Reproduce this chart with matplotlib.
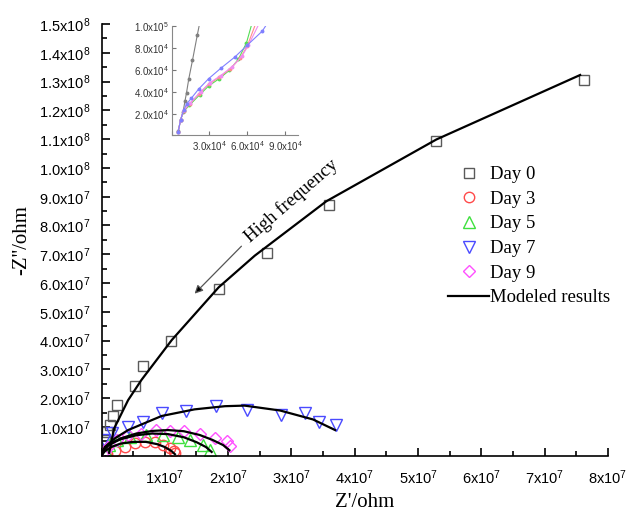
import numpy as np
import matplotlib
matplotlib.use('Agg')
import matplotlib.pyplot as plt
from matplotlib.ticker import MultipleLocator, FuncFormatter

plt.rcParams['mathtext.default'] = 'regular'

# measured data (units of 1e7 ohm)
day0_x = [0.05, 0.09, 0.13, 0.18, 0.25, 0.53, 0.66, 1.09, 1.85, 2.62, 3.59, 5.29, 7.62]
day0_y = [0.55, 0.83, 1.06, 1.38, 1.76, 2.42, 3.12, 4.00, 5.79, 7.03, 8.70, 10.93, 13.06]
day3_x = [0.08, 0.21, 0.37, 0.53, 0.68, 0.84, 0.97, 1.08, 1.14, 1.16]
day3_y = [0.05, 0.15, 0.31, 0.43, 0.48, 0.47, 0.38, 0.28, 0.18, 0.08]
day5_x = [0.05, 0.12, 0.25, 0.45, 0.70, 0.97, 1.21, 1.39, 1.60, 1.72]
day5_y = [0.20, 0.38, 0.55, 0.66, 0.72, 0.72, 0.64, 0.54, 0.38, 0.20]
day7_x = [0.04, 0.16, 0.42, 0.66, 0.96, 1.33, 1.81, 2.30, 2.84, 3.21, 3.44, 3.70]
day7_y = [0.56, 0.79, 0.99, 1.18, 1.47, 1.55, 1.71, 1.60, 1.41, 1.47, 1.18, 1.06]
day9_x = [0.05, 0.10, 0.24, 0.42, 0.63, 0.86, 1.08, 1.30, 1.56, 1.80, 1.98, 2.03]
day9_y = [0.15, 0.31, 0.54, 0.71, 0.77, 0.89, 0.85, 0.85, 0.75, 0.62, 0.50, 0.33]

# modeled results
fit0_x = [0.12, 0.20, 0.42, 0.63, 1.11, 1.85, 2.42, 3.55, 5.29, 7.56]
fit0_y = [0.10, 0.95, 1.93, 2.63, 4.02, 5.85, 6.95, 8.84, 10.99, 13.23]
fit3_x = [0.0, 0.05, 0.15, 0.30, 0.50, 0.70, 0.88, 1.00, 1.10, 1.16]
fit3_y = [0.0, 0.15, 0.30, 0.42, 0.48, 0.48, 0.40, 0.30, 0.17, 0.05]
fit5_x = [0.0, 0.03, 0.12, 0.30, 0.55, 0.80, 1.05, 1.30, 1.50, 1.65, 1.74]
fit5_y = [0.0, 0.18, 0.38, 0.57, 0.71, 0.77, 0.75, 0.64, 0.47, 0.30, 0.13]
fit7_x = [0.0, 0.05, 0.21, 0.42, 0.95, 1.47, 1.95, 2.26, 2.82, 3.34, 3.69]
fit7_y = [0.0, 0.30, 0.60, 0.89, 1.38, 1.61, 1.72, 1.74, 1.57, 1.26, 0.89]
fit9_x = [0.0, 0.03, 0.12, 0.30, 0.55, 0.80, 1.05, 1.30, 1.55, 1.75, 1.92, 2.02]
fit9_y = [0.0, 0.20, 0.40, 0.60, 0.77, 0.86, 0.89, 0.85, 0.72, 0.55, 0.37, 0.19]

# inset data (units of 1e4 ohm)
in0_x = [0.53, 0.72, 0.92, 1.06, 1.19, 1.37, 1.66, 2.05, 2.35]
in0_y = [0.44, 1.43, 2.19, 3.12, 3.94, 5.21, 6.89, 9.26, 11.0]
in3_x = [0.53, 0.72, 0.95, 1.45, 2.20, 2.95, 3.80, 4.65, 5.45, 6.00, 6.75]
in3_y = [0.35, 1.43, 2.25, 2.90, 3.85, 4.70, 5.35, 6.10, 7.10, 8.20, 10.5]
in5_x = [0.53, 0.72, 0.95, 1.40, 2.23, 2.96, 3.74, 4.58, 5.30, 5.94, 6.50]
in5_y = [0.35, 1.43, 2.20, 2.75, 3.73, 4.56, 5.18, 5.97, 7.00, 8.50, 10.8]
in7_x = [0.53, 0.72, 0.95, 1.20, 1.58, 2.15, 2.94, 3.93, 5.02, 6.00, 7.19, 7.60]
in7_y = [0.35, 1.43, 2.30, 2.90, 3.43, 4.26, 5.21, 6.19, 7.20, 8.28, 9.57, 10.3]
in9_x = [0.53, 0.72, 0.95, 1.50, 2.30, 3.05, 3.90, 4.80, 5.60, 6.10, 7.00]
in9_y = [0.35, 1.43, 2.30, 3.00, 4.00, 4.85, 5.50, 6.30, 7.30, 8.30, 10.4]

serif = 'Liberation Serif'
sans = 'Liberation Sans'


def sci_fmt(decimals):
    def f(v, pos):
        if v <= 0:
            return ''
        e = int(np.floor(np.log10(v) + 1e-9))
        m = v / 10 ** e
        return f'{m:.{decimals}f}x10$^{{{e}}}$'
    return f


fig = plt.figure(figsize=(6.29, 5.12), dpi=100)
ax = fig.add_axes([0.1614, 0.110, 0.8052, 0.843])

s = 1e7
series = [
    (day0_x, day0_y, 's', '#5a5a5a', 6.5, 'Day 0'),
    (day3_x, day3_y, 'o', '#ff4a4a', 7.5, 'Day 3'),
    (day5_x, day5_y, '^', '#3ee03e', 8, 'Day 5'),
    (day7_x, day7_y, 'v', '#4a4aff', 8, 'Day 7'),
    (day9_x, day9_y, 'D', '#ff50ff', 6.5, 'Day 9'),
]
for xs, ys, mk, c, ms, lab in series:
    ax.plot(np.array(xs) * s, np.array(ys) * s, linestyle='none', marker=mk,
            markersize=ms, markerfacecolor='none', markeredgecolor=c,
            markeredgewidth=1.0, label=lab)

fits = [(fit0_x, fit0_y), (fit3_x, fit3_y), (fit5_x, fit5_y),
        (fit7_x, fit7_y), (fit9_x, fit9_y)]
for i, (xs, ys) in enumerate(fits):
    ax.plot(np.array(xs) * s, np.array(ys) * s, color='black', lw=1.6,
            label='Modeled results' if i == 0 else None)

ax.set_xlim(0, 8e7)
ax.set_ylim(0, 1.5e8)
ax.xaxis.set_major_locator(MultipleLocator(1e7))
ax.xaxis.set_minor_locator(MultipleLocator(5e6))
ax.yaxis.set_major_locator(MultipleLocator(1e7))
ax.yaxis.set_minor_locator(MultipleLocator(5e6))
ax.xaxis.set_major_formatter(FuncFormatter(sci_fmt(0)))
ax.yaxis.set_major_formatter(FuncFormatter(sci_fmt(1)))
ax.tick_params(which='both', direction='in', width=1.2)
ax.tick_params(which='major', length=6)
ax.tick_params(which='minor', length=3.5)
ax.tick_params(axis='x', which='major', pad=9, labelsize=10.5)
ax.tick_params(axis='y', which='major', pad=8, labelsize=10.5)
for lbl in ax.get_xticklabels() + ax.get_yticklabels():
    lbl.set_family(sans)
for sp in ['top', 'right']:
    ax.spines[sp].set_visible(False)
for sp in ['left', 'bottom']:
    ax.spines[sp].set_linewidth(1.2)

ax.set_xlabel("Z'/ohm", family=serif, fontsize=15)
ax.set_ylabel("-Z''/ohm", family=serif, fontsize=15)
ax.xaxis.set_label_coords(0.52, -0.087)
ax.yaxis.set_label_coords(-0.138, 0.5)

ax.annotate('', xy=(1.47e7, 5.63e7), xytext=(2.21e7, 7.28e7),
            arrowprops=dict(arrowstyle='-|>', color='#777777', lw=0.9,
                            mutation_scale=12, shrinkA=0, shrinkB=0,
                            fc='black', ec='#555555'))
ax.text(3.0e7, 8.85e7, 'High frequency', family=serif, fontsize=13.5,
        rotation=41, ha='center', va='center', rotation_mode='anchor')

leg = ax.legend(loc='upper left', bbox_to_anchor=(0.684, 0.671), frameon=False,
                prop={'family': serif, 'size': 13.5}, handlelength=2.2,
                handletextpad=0.05, labelspacing=0.4, borderaxespad=0,
                borderpad=0)

# inset
ins = fig.add_axes([0.2727, 0.7354, 0.2006, 0.2129])
inset = [(in0_x, in0_y, '#808080'), (in5_x, in5_y, '#55dd55'),
         (in3_x, in3_y, '#ff8c8c'), (in9_x, in9_y, '#f08cf0'),
         (in7_x, in7_y, '#8080ff')]
for xs, ys, c in inset:
    ins.plot(np.array(xs) * 1e4, np.array(ys) * 1e4, color=c, lw=0.8,
             marker='o', markersize=1.8)
ins.set_xlim(0, 1e5)
ins.set_ylim(0, 1e5)
ins.xaxis.set_major_locator(MultipleLocator(3e4))
ins.yaxis.set_major_locator(MultipleLocator(2e4))
ins.xaxis.set_major_formatter(FuncFormatter(sci_fmt(1)))
ins.yaxis.set_major_formatter(FuncFormatter(sci_fmt(1)))
ins.tick_params(direction='in', length=3, width=0.8, colors='#777777',
                labelcolor='#333333', labelsize=7)
ins.tick_params(axis='x', pad=3)
ins.tick_params(axis='y', pad=2)
for lbl in ins.get_xticklabels() + ins.get_yticklabels():
    lbl.set_family(sans)
for sp in ['top', 'right']:
    ins.spines[sp].set_visible(False)
for sp in ['left', 'bottom']:
    ins.spines[sp].set_color('#888888')
    ins.spines[sp].set_linewidth(0.8)

fig.savefig('out.png', dpi=100)
